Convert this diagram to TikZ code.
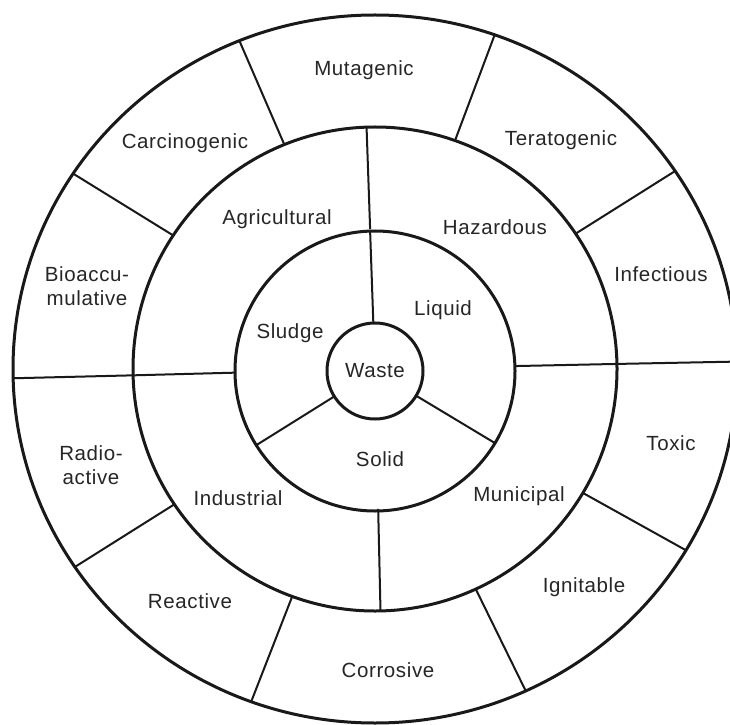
\documentclass[tikz,border=0pt]{standalone}
\usepackage{fontspec}
\setmainfont{Liberation Sans}[LetterSpace=3]
\usetikzlibrary{calc}
\begin{document}
\begin{tikzpicture}[x=1pt,y=1pt,
  ring/.style={line width=3pt, draw=black!90},
  spoke/.style={line width=2pt, draw=black!90},
  lbl/.style={font=\fontsize{20.5}{23.5}\selectfont, text=black!85, align=center, inner sep=0pt}]
\fill[white] (0,0) rectangle (730,724);
\useasboundingbox (0,0) rectangle (730,724);
\coordinate (C) at (375,355);
\coordinate (W) at (375,353);
\begin{scope}
\clip (0,0) rectangle (730,724);
% circles
\draw[ring] (C) circle[x radius=362, y radius=354];
\draw[ring] (C) circle[radius=242];
\draw[ring] (W) circle[radius=140];
\draw[ring] (W) circle[radius=48];
% outer ring spokes
\foreach \a in {1.2,34,70.7,112,146.5,181.5,214,250,294.6,329.2}
  \draw[spoke] ($(C)+(\a:242)$) -- ($(C)+(\a:362 and 354)$);
% middle ring spokes
\foreach \a in {1.2,181.5,92,271.3}
  \draw[spoke] ($(C)+(\a:140)$) -- ($(C)+(\a:242)$);
% inner ring spokes
\foreach \a in {92,212,329}
  \draw[spoke] ($(W)+(\a:48)$) -- ($(W)+(\a:140)$);
\end{scope}
% labels
\node[lbl] (mut) at (364,654) {Mutagenic};
\node[lbl] (car) at (185,581) {Carcinogenic};
\node[lbl] (ter) at (561,584) {Teratogenic};
\node[lbl] (bio) at (87,438) {Bioaccu-\\mulative};
\node[lbl] (inf) at (661,450) {Infectious};
\node[lbl] (agr) at (277,505) {Agricultural};
\node[lbl] (haz) at (495,497) {Hazardous};
\node[lbl] (liq) at (443,414) {Liquid};
\node[lbl] (slu) at (290,391) {Sludge};
\node[lbl] (was) at (375,353) {Waste};
\node[lbl] (sol) at (380,265) {Solid};
\node[lbl] (rad) at (91,259) {Radio-\\active};
\node[lbl] (ind) at (238,226) {Industrial};
\node[lbl] (mun) at (519,228) {Municipal};
\node[lbl] (tox) at (671,281) {Toxic};
\node[lbl] (rea) at (190,123) {Reactive};
\node[lbl] (ign) at (584,137) {Ignitable};
\node[lbl] (cor) at (388,54) {Corrosive};
\end{tikzpicture}
\end{document}
